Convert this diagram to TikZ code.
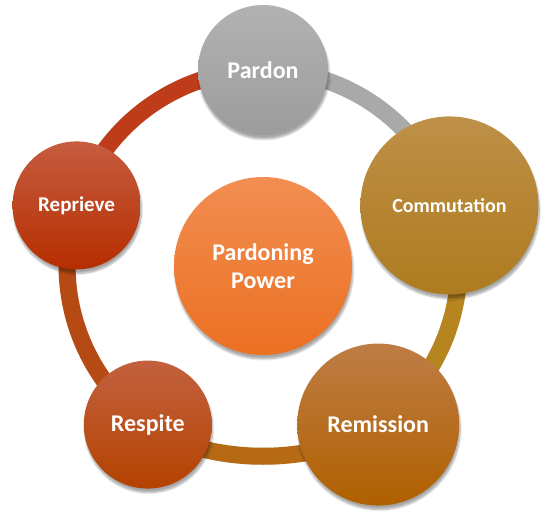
\documentclass[tikz,border=0pt]{standalone}
\usepackage{fontspec}
\setmainfont{Carlito}
\usetikzlibrary{shadows.blur}
\pgfdeclarelayer{background}
\pgfsetlayers{background,main}
\definecolor{ringgray}{HTML}{A9A9A9}
\definecolor{ringgold}{HTML}{B7851F}
\definecolor{ringamber}{HTML}{B66A14}
\definecolor{ringrust}{HTML}{B54A14}
\definecolor{ringred}{HTML}{BE3C1A}

\begin{document}
\begin{tikzpicture}[x=1pt,y=1pt,
	bubble/.style={circle,inner sep=0pt,align=center,text=white,
		font=\bfseries\fontsize{24}{28}\selectfont,
		blur shadow={shadow xshift=1pt,shadow yshift=-4pt,shadow blur steps=8,shadow opacity=35}},
	band/.style={line width=17pt}]
	\useasboundingbox (0,0) rectangle (550,514);
	\coordinate (hub) at (263,248);
	
	\node[bubble,minimum size=178pt,top color={rgb,255:red,242;green,142;blue,82},bottom color={rgb,255:red,235;green,112;blue,34}] (power) at (hub) {Pardoning\\Power};
	\node[bubble,minimum size=130pt,top color={rgb,255:red,178;green,178;blue,178},bottom color={rgb,255:red,156;green,156;blue,156}] (pardon) at ([shift={(90:196)}]hub) {Pardon};
	\node[bubble,minimum size=178pt,font=\bfseries\fontsize{20}{24}\selectfont,top color={rgb,255:red,190;green,144;blue,72},bottom color={rgb,255:red,174;green,123;blue,31}] (commut) at ([shift={(18:196)}]hub) {Commutation};
	\node[bubble,minimum size=162pt,top color={rgb,255:red,190;green,125;blue,69},bottom color={rgb,255:red,176;green,96;blue,0}] (remiss) at ([shift={(-54:196)}]hub) {Remission};
	\node[bubble,minimum size=128pt,top color={rgb,255:red,194;green,97;blue,63},bottom color={rgb,255:red,180;green,66;blue,0}] (respite) at ([shift={(-126:196)}]hub) {Respite};
	\node[bubble,minimum size=128pt,font=\bfseries\fontsize{21}{25}\selectfont,top color={rgb,255:red,198;green,92;blue,64},bottom color={rgb,255:red,181;green,46;blue,0}] (reprieve) at ([shift={(162:196)}]hub) {Reprieve};
	
	\begin{pgfonlayer}{background}
		\foreach \a/\b/\c/\l in {pardon/commut/ringgray/0.94,commut/remiss/ringgold/0.94,remiss/respite/ringamber/0.8,respite/reprieve/ringrust/0.94,reprieve/pardon/ringred/0.94}{
			\draw[band,black,opacity=0.12,yshift=-3pt] (\a.center) to[bend left=36,looseness=\l] (\b.center);
			\draw[band,\c] (\a.center) to[bend left=36,looseness=\l] (\b.center);
		}
	\end{pgfonlayer}
\end{tikzpicture}
\end{document}
